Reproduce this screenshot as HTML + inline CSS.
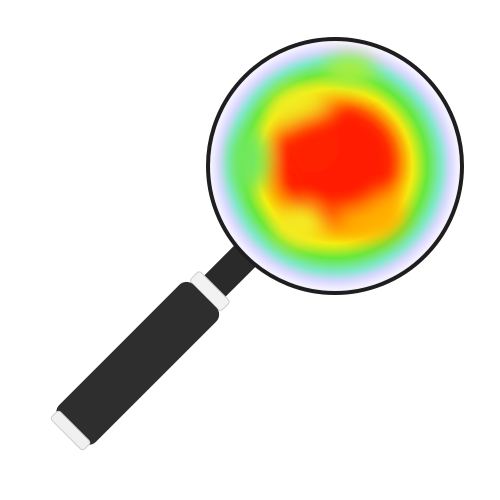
<!DOCTYPE html>
<html><head><meta charset="utf-8"><style>html,body{margin:0;padding:0;background:#fff}svg{display:block}</style></head>
<body>
<svg width="500" height="500" viewBox="0 0 500 500">
<defs>
<radialGradient id="heat" cx="0.5" cy="0.5" r="0.5">
<stop offset="0" stop-color="#ff1a00"/>
<stop offset="0.38" stop-color="#ff2a00"/>
<stop offset="0.52" stop-color="#ff9a00"/>
<stop offset="0.63" stop-color="#f6ee10"/>
<stop offset="0.75" stop-color="#66e83c"/>
<stop offset="0.86" stop-color="#7fe8c8"/>
<stop offset="0.94" stop-color="#d8d8ff"/>
<stop offset="1" stop-color="#f4f0ff"/>
</radialGradient>
<filter id="blur" x="-50%" y="-50%" width="200%" height="200%"><feGaussianBlur stdDeviation="9"/></filter>
<clipPath id="lensclip"><circle cx="335" cy="166" r="123"/></clipPath>
</defs>
<g transform="rotate(45 335 166)">
<rect x="320" y="286" width="30" height="52" fill="#2a2a2a"/>
<rect x="313" y="336" width="44" height="14" rx="3" fill="#f2f2f2" stroke="#ccc"/>
<rect x="309" y="350" width="52" height="190" rx="10" fill="#2e2e2e"/>
<rect x="312" y="534" width="46" height="12" rx="3" fill="#f0f0f0" stroke="#ccc"/>
</g>
<circle cx="335" cy="166" r="127" fill="#f4f0ff" stroke="#1e1e1e" stroke-width="4"/>
<g clip-path="url(#lensclip)">
<circle cx="335" cy="166" r="123" fill="url(#heat)"/>
<g filter="url(#blur)">
<ellipse cx="300" cy="110" rx="30" ry="22" fill="#f0ee20"/>
<ellipse cx="370" cy="215" rx="35" ry="25" fill="#ffb000"/>
<ellipse cx="300" cy="225" rx="25" ry="20" fill="#f4ea20"/>
<ellipse cx="250" cy="160" rx="18" ry="30" fill="#70e860"/>
<ellipse cx="340" cy="160" rx="55" ry="52" fill="#ff1e00"/>
<ellipse cx="310" cy="145" rx="30" ry="28" fill="#ff2000"/>
<ellipse cx="350" cy="70" rx="25" ry="15" fill="#a8ee40"/>
</g>
</g>
</svg>
</body></html>
